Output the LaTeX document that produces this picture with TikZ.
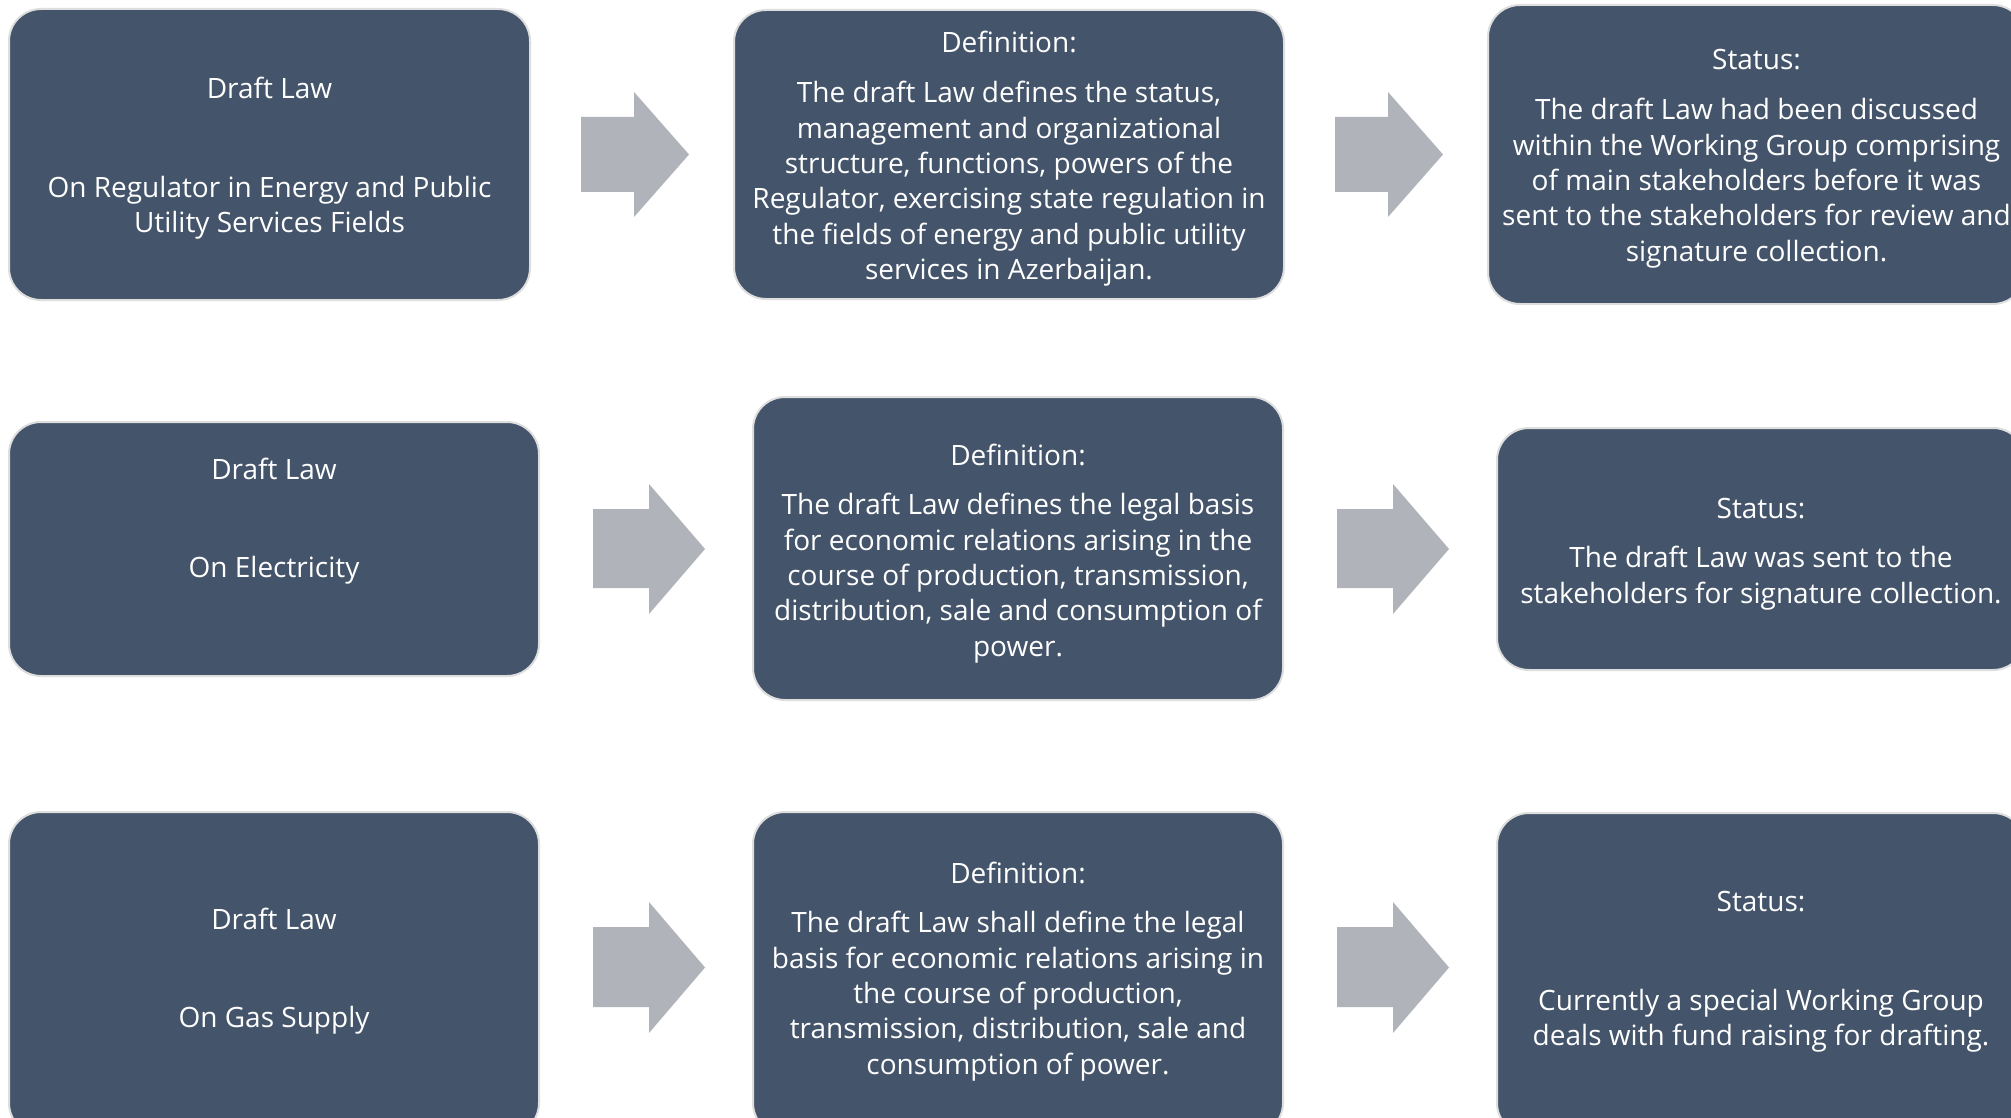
\documentclass[tikz,border=0pt]{standalone}
\usepackage{fontspec}
\setmainfont{Open Sans}
\definecolor{boxfill}{HTML}{44546A}
\definecolor{arrowfill}{HTML}{B0B3BA}
\definecolor{boxline}{HTML}{DEDEDE}
\begin{document}
\begin{tikzpicture}[x=1pt,y=-1pt,
  card/.style={draw=boxline, line width=2pt, fill=boxfill, rounded corners=32pt, inner sep=0pt},
  txt/.style={text=white, align=center, font=\fontsize{28}{35.3}\selectfont, inner sep=0pt, yshift=-1.5pt},
  blockarrow/.style={fill=arrowfill}]
\useasboundingbox (0,0) rectangle (2011,1118);
\clip (0,0) rectangle (2011,1118);
\fill[white] (0,0) rectangle (2011,1118);

% row 1
\node[card, minimum width=521pt, minimum height=291pt] (A1) at (269.5,154.5) {};
\node[card, minimum width=550pt, minimum height=289pt] (B1) at (1009,154.5) {};
\node[card, minimum width=537pt, minimum height=299pt] (C1) at (1756.5,154.5) {};
\node[txt] (A1t) at (269.5,157) {\strut Draft Law\\[63.7pt]On Regulator in Energy and Public\\Utility Services Fields\strut};
\node[txt] (B1t) at (1009,157.5) {\strut Definition:\\[14.7pt]The draft Law defines the status,\\management and organizational\\structure, functions, powers of the\\Regulator, exercising state regulation in\\the fields of energy and public utility\\services in Azerbaijan.\strut};
\node[txt] (C1t) at (1756.5,157) {\strut Status:\\[14.7pt]The draft Law had been discussed\\within the Working Group comprising\\of main stakeholders before it was\\sent to the stakeholders for review and\\signature collection.\strut};
\fill[blockarrow] (581,117) -- (634,117) -- (634,92) -- (689,154.5) -- (634,217) -- (634,192) -- (581,192) -- cycle;
\fill[blockarrow] (1335,117) -- (1388,117) -- (1388,92) -- (1443,154.5) -- (1388,217) -- (1388,192) -- (1335,192) -- cycle;

% row 2
\node[card, minimum width=530pt, minimum height=254pt] (A2) at (274,549) {};
\node[card, minimum width=530pt, minimum height=303pt] (B2) at (1018,548.5) {};
\node[card, minimum width=528pt, minimum height=242pt] (C2) at (1761,549) {};
\node[txt] (A2t) at (274,520) {\strut Draft Law\\[62.7pt]On Electricity\strut};
\node[txt] (B2t) at (1018,552.5) {\strut Definition:\\[13.7pt]The draft Law defines the legal basis\\for economic relations arising in the\\course of production, transmission,\\distribution, sale and consumption of\\power.\strut};
\node[txt] (C2t) at (1761,552.5) {\strut Status:\\[13.7pt]The draft Law was sent to the\\stakeholders for signature collection.\strut};
\fill[blockarrow] (593,509) -- (649,509) -- (649,484) -- (705,549) -- (649,614) -- (649,588) -- (593,588) -- cycle;
\fill[blockarrow] (1337,509) -- (1393,509) -- (1393,484) -- (1449,549) -- (1393,614) -- (1393,588) -- (1337,588) -- cycle;

% row 3
\node[card, minimum width=530pt, minimum height=323pt] (A3) at (274,973.5) {};
\node[card, minimum width=530pt, minimum height=323pt] (B3) at (1018,973.5) {};
\node[card, minimum width=528pt, minimum height=322pt] (C3) at (1761,974) {};
\node[txt] (A3t) at (274,970) {\strut Draft Law\\[62.7pt]On Gas Supply\strut};
\node[txt] (B3t) at (1018,970.5) {\strut Definition:\\[13.7pt]The draft Law shall define the legal\\basis for economic relations arising in\\the course of production,\\transmission, distribution, sale and\\consumption of power.\strut};
\node[txt] (C3t) at (1761,970) {\strut Status:\\[63.7pt]Currently a special Working Group\\deals with fund raising for drafting.\strut};
\fill[blockarrow] (593,927) -- (649,927) -- (649,902) -- (705,967.5) -- (649,1033) -- (649,1007) -- (593,1007) -- cycle;
\fill[blockarrow] (1337,927) -- (1393,927) -- (1393,902) -- (1449,967.5) -- (1393,1033) -- (1393,1007) -- (1337,1007) -- cycle;
\end{tikzpicture}
\end{document}
